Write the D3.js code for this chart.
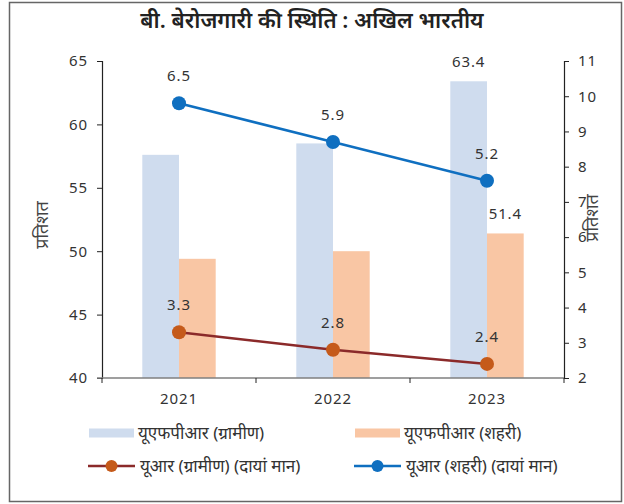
<!DOCTYPE html>
<html>
<head>
<meta charset="utf-8">
<script src="https://cdn.jsdelivr.net/npm/d3@7"></script>
<style>
  body { margin: 0; background: #fff; }
  text { font-family: "Noto Sans", "Noto Sans Devanagari", sans-serif; }
  .num { letter-spacing: 0.9px; }
</style>
</head>
<body>
<div id="chart"></div>
<script>
// data
const years = ['2021', '2022', '2023'];
const ufprRural = [57.6, 58.5, 63.4];
const ufprUrban = [49.4, 50.0, 51.4];
const urRural = [3.3, 2.8, 2.4];
const urUrban = [6.5, 5.9, 5.2];
const leftTicks = [40, 45, 50, 55, 60, 65];
const rightTicks = [2, 3, 4, 5, 6, 7, 8, 9, 10, 11];
const labelledYears = ['2023'];

const W = 624, H = 504;
const svg = d3.select('#chart').append('svg')
    .attr('width', W).attr('height', H);

// outer frame
svg.append('rect')
    .attr('x', 9.5).attr('y', 2.5)
    .attr('width', 612).attr('height', 499)
    .attr('fill', 'none').attr('stroke', '#666').attr('stroke-width', 1.5);

svg.append('text')
    .attr('x', 312).attr('y', 28)
    .attr('text-anchor', 'middle')
    .attr('font-size', 22).attr('font-weight', 600).attr('fill', '#222')
    .text('बी. बेरोजगारी की स्थिति : अखिल भारतीय');

const x = d3.scaleBand().domain(years).range([102, 564]);
const sub = d3.scaleBand().domain(['rural', 'urban'])
    .range([x.bandwidth() / 2 - 36.7, x.bandwidth() / 2 + 36.7]);
const yL = d3.scaleLinear().domain([40, 65]).range([378, 61]);
const yR = d3.scaleLinear().domain([2, 11]).range([378, 61]);

// bars
const barSeries = [
    { key: 'rural', values: ufprRural, color: '#cfdcee' },
    { key: 'urban', values: ufprUrban, color: '#f9c6a4' }
];
barSeries.forEach(s => {
    svg.selectAll('.bar-' + s.key)
        .data(years)
        .enter()
        .append('rect')
        .attr('x', d => x(d) + sub(s.key))
        .attr('width', sub.bandwidth())
        .attr('y', (d, i) => yL(s.values[i]))
        .attr('height', (d, i) => yL(40) - yL(s.values[i]))
        .attr('fill', s.color);

    svg.selectAll('.barlab-' + s.key)
        .data(years.filter(d => labelledYears.includes(d)))
        .enter()
        .append('text')
        .attr('class', 'num')
        .attr('x', d => x(d) + sub(s.key) + sub.bandwidth() / 2)
        .attr('y', d => yL(s.values[years.indexOf(d)]) - 14)
        .attr('text-anchor', 'middle')
        .attr('font-size', 15).attr('fill', '#333')
        .text(d => s.values[years.indexOf(d)].toFixed(1));
});

// axes
const leftAxis = svg.append('g')
    .attr('transform', 'translate(102,0)')
    .call(d3.axisLeft(yL).tickValues(leftTicks).tickSize(5).tickPadding(9));
const rightAxis = svg.append('g')
    .attr('transform', 'translate(564,0)')
    .call(d3.axisRight(yR).tickValues(rightTicks).tickSize(5).tickPadding(9));
[leftAxis, rightAxis].forEach(g => {
    g.select('.domain').attr('stroke', '#222').attr('stroke-width', 1.2);
    g.selectAll('.tick line').attr('stroke', '#222');
    g.selectAll('.tick text').attr('class', 'num').attr('font-size', 15).attr('fill', '#333')
        .style('font-family', '"Noto Sans", sans-serif');
});

// category axis
const xAxis = svg.append('g').attr('transform', 'translate(0,378)');
xAxis.append('line')
    .attr('x1', 97).attr('x2', 564)
    .attr('stroke', '#7f7f7f').attr('stroke-width', 1.5);
const bounds = years.map(d => x(d)).concat([x.range()[1]]);
xAxis.selectAll('.xtick')
    .data(bounds)
    .enter()
    .append('line')
    .attr('x1', d => d).attr('x2', d => d)
    .attr('y1', 0).attr('y2', 5)
    .attr('stroke', '#222');
xAxis.selectAll('.xlab')
    .data(years)
    .enter()
    .append('text')
    .attr('class', 'num')
    .attr('x', d => x(d) + x.bandwidth() / 2)
    .attr('y', 26)
    .attr('text-anchor', 'middle')
    .attr('font-size', 15).attr('fill', '#333')
    .text(d => d);

// axis titles
[[48, 225], [598, 218]].forEach(([tx, ty]) => {
    svg.append('text')
        .attr('transform', `translate(${tx},${ty}) rotate(-90)`)
        .attr('text-anchor', 'middle')
        .attr('font-size', 18).attr('fill', '#444')
        .text('प्रतिशत');
});

// lines (urban line stacked on rural, as in the source chart)
const lineSeries = [
    { values: urRural, plot: urRural, stroke: '#8b2a2a', dot: '#c55a1a' },
    { values: urUrban, plot: urUrban.map((v, i) => v + urRural[i]), stroke: '#0f6fc0', dot: '#0f6fc0' }
];
const line = d3.line()
    .x((d, i) => x(years[i]) + x.bandwidth() / 2)
    .y(d => yR(d));
lineSeries.forEach(s => {
    svg.append('path')
        .datum(s.plot)
        .attr('d', line)
        .attr('fill', 'none')
        .attr('stroke', s.stroke).attr('stroke-width', 2.5);
    svg.selectAll(null)
        .data(s.plot)
        .enter()
        .append('circle')
        .attr('cx', (d, i) => x(years[i]) + x.bandwidth() / 2)
        .attr('cy', d => yR(d))
        .attr('r', 7)
        .attr('fill', s.dot);
    svg.selectAll(null)
        .data(s.plot)
        .enter()
        .append('text')
        .attr('class', 'num')
        .attr('x', (d, i) => x(years[i]) + x.bandwidth() / 2)
        .attr('y', d => yR(d) - 22)
        .attr('text-anchor', 'middle')
        .attr('font-size', 15).attr('fill', '#333')
        .text((d, i) => s.values[i].toFixed(1));
});

// legend
const legendItems = [
    { label: 'यूएफपीआर (ग्रामीण)', type: 'bar', color: '#cfdcee', x: 89, y: 433 },
    { label: 'यूएफपीआर (शहरी)', type: 'bar', color: '#f9c6a4', x: 355, y: 433 },
    { label: 'यूआर (ग्रामीण) (दायां मान)', type: 'line', color: '#8b2a2a', dot: '#c55a1a', x: 88, y: 466 },
    { label: 'यूआर (शहरी) (दायां मान)', type: 'line', color: '#0f6fc0', dot: '#0f6fc0', x: 354, y: 466 }
];
const legend = svg.selectAll('.legend')
    .data(legendItems)
    .enter()
    .append('g')
    .attr('transform', d => `translate(${d.x},${d.y})`);
legend.filter(d => d.type === 'bar')
    .append('rect')
    .attr('x', 0).attr('y', -4.5)
    .attr('width', 45).attr('height', 9)
    .attr('fill', d => d.color);
legend.filter(d => d.type === 'line')
    .append('line')
    .attr('x1', 0).attr('x2', 47)
    .attr('stroke', d => d.color).attr('stroke-width', 2.5);
legend.filter(d => d.type === 'line')
    .append('circle')
    .attr('cx', 23.5).attr('r', 6)
    .attr('fill', d => d.dot);
legend.append('text')
    .attr('x', d => d.type === 'bar' ? 49 : 52)
    .attr('y', 6)
    .attr('font-size', 17).attr('fill', '#333')
    .text(d => d.label);
</script>
</body>
</html>
